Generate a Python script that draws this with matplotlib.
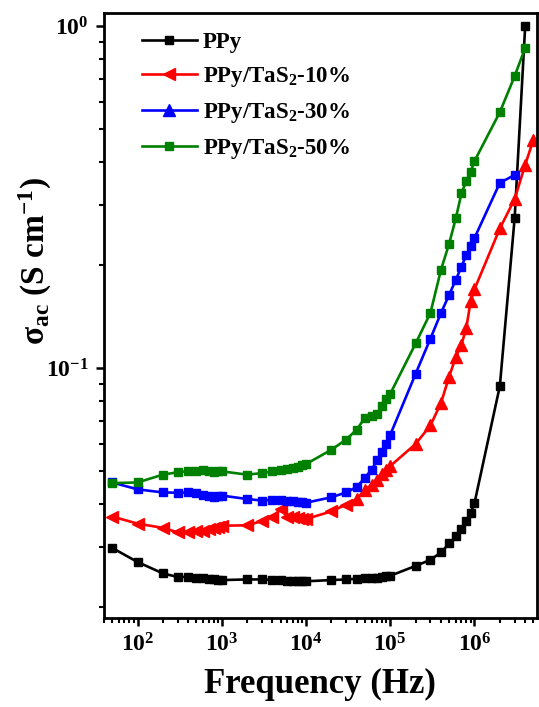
import matplotlib
matplotlib.use("Agg")
import matplotlib.pyplot as plt
from matplotlib.lines import Line2D
from matplotlib.ticker import LogLocator, NullFormatter, LogFormatterSciNotation

plt.rcParams['font.family'] = ['Liberation Serif', 'DejaVu Serif']
plt.rcParams['font.weight'] = 'bold'
plt.rcParams['mathtext.fontset'] = 'custom'
plt.rcParams['mathtext.rm'] = 'Liberation Serif:bold'
plt.rcParams['mathtext.bf'] = 'Liberation Serif:bold'
plt.rcParams['mathtext.it'] = 'Liberation Serif:bold:italic'
plt.rcParams['mathtext.default'] = 'bf'

# ---------------- data ----------------
freq_base = [50, 100, 200, 300, 400, 500, 600, 700, 800, 900,
             1e3, 2e3, 3e3, 4e3, 5e3, 6e3, 7e3, 8e3, 9e3,
             1e4, 2e4, 3e4, 4e4, 5e4, 6e4, 7e4, 8e4, 9e4,
             1e5, 2e5, 3e5, 4e5, 5e5, 6e5, 7e5, 8e5, 9e5, 1e6]

freq_ppy = freq_base + [2e6, 3e6, 4e6]
sigma_ppy = [0.0298, 0.0271, 0.0251, 0.0245, 0.0245, 0.0244, 0.0243, 0.0242, 0.0241, 0.0240,
             0.0240, 0.0241, 0.0241, 0.0240, 0.0240, 0.0239, 0.0239, 0.0238, 0.0238,
             0.0238, 0.0240, 0.0241, 0.0242, 0.0243, 0.0244, 0.0244, 0.0245, 0.0246,
             0.0247, 0.0264, 0.0275, 0.0289, 0.0307, 0.0322, 0.0339, 0.0357, 0.0377, 0.0403,
             0.0886, 0.275, 1.0]

freq_10 = freq_base + [2e6, 3e6, 4e6, 5e6]
sigma_10 = [0.0368, 0.0351, 0.0341, 0.0331, 0.0331, 0.0334, 0.0335, 0.0338, 0.0341, 0.0344,
            0.0346, 0.0347, 0.0357, 0.0368, 0.0386, 0.0368, 0.0366, 0.0364, 0.0363,
            0.0362, 0.0381, 0.0399, 0.0414, 0.0441, 0.0456, 0.0472, 0.0490, 0.0505,
            0.0517, 0.0600, 0.0680, 0.0790, 0.0944, 0.1077, 0.117, 0.131, 0.157, 0.170,
            0.256, 0.312, 0.393, 0.465]

freq_30 = freq_base + [2e6, 3e6]
sigma_30 = [0.0463, 0.0442, 0.0433, 0.0432, 0.0433, 0.0430, 0.0425, 0.0423, 0.0421, 0.0424,
            0.0424, 0.0414, 0.0410, 0.0412, 0.0411, 0.0410, 0.0408, 0.0407, 0.0405,
            0.0404, 0.0419, 0.0433, 0.0449, 0.0478, 0.0505, 0.0537, 0.0570, 0.0600,
            0.0638, 0.0962, 0.1220, 0.1448, 0.1637, 0.181, 0.198, 0.214, 0.227, 0.240,
            0.348, 0.367]

freq_50 = freq_base + [2e6, 3e6, 4e6]
sigma_50 = [0.0461, 0.0463, 0.0488, 0.0496, 0.0499, 0.0500, 0.0504, 0.0500, 0.0498, 0.0500,
            0.0499, 0.0488, 0.0493, 0.0499, 0.0502, 0.0506, 0.0509, 0.0515, 0.0520,
            0.0524, 0.0577, 0.0618, 0.0661, 0.0715, 0.0722, 0.0734, 0.0773, 0.0810,
            0.0841, 0.118, 0.145, 0.1937, 0.231, 0.274, 0.324, 0.353, 0.375, 0.403,
            0.560, 0.714, 0.864]

labels = ['PPy', 'PPy/TaS$_2$-10%', 'PPy/TaS$_2$-30%', 'PPy/TaS$_2$-50%']
colors = ['#000000', '#FF0000', '#0000FF', '#008000']
legend_markers = ['s', '<', '^', 's']

# ---------------- figure ----------------
fig = plt.figure(figsize=(5.39, 7.07), dpi=100)
ax = fig.add_axes([0.193, 0.126, 0.803, 0.856])

lw = 1.9
ms = 6.0
ax.plot(freq_ppy, sigma_ppy, color=colors[0], lw=lw, marker='s', ms=ms)

# red series: line, then markers (left triangles at low f, up triangles at high f)
ax.plot(freq_10, sigma_10, color=colors[1], lw=lw)
f_lo = [f for f in freq_10 if f < 4e4]
s_lo = [s for f, s in zip(freq_10, sigma_10) if f < 4e4]
f_hi = [f for f in freq_10 if f >= 4e4]
s_hi = [s for f, s in zip(freq_10, sigma_10) if f >= 4e4]
ax.plot(f_lo, s_lo, ls='none', marker='<', color=colors[1], ms=ms + 2)
ax.plot(f_hi, s_hi, ls='none', marker='^', color=colors[1], ms=ms + 2)

ax.plot(freq_30, sigma_30, color=colors[2], lw=lw, marker='s', ms=ms)
ax.plot(freq_50, sigma_50, color=colors[3], lw=lw, marker='s', ms=ms)

ax.set_xscale('log')
ax.set_yscale('log')
ax.set_xlim(40, 5.5e6)
ax.set_ylim(0.0186, 1.094)

ax.xaxis.set_major_locator(LogLocator(base=10, numticks=20))
ax.xaxis.set_minor_locator(LogLocator(base=10, subs=range(2, 10), numticks=50))
ax.yaxis.set_major_locator(LogLocator(base=10, numticks=20))
ax.yaxis.set_minor_locator(LogLocator(base=10, subs=range(2, 10), numticks=50))
ax.xaxis.set_minor_formatter(NullFormatter())
ax.yaxis.set_minor_formatter(NullFormatter())
ax.xaxis.set_major_formatter(LogFormatterSciNotation())
ax.yaxis.set_major_formatter(LogFormatterSciNotation())

for sp in ax.spines.values():
    sp.set_linewidth(2.0)
ax.tick_params(which='major', direction='out', length=6, width=1.8, labelsize=17, pad=5)
ax.tick_params(which='minor', direction='out', length=3.5, width=1.5)
ax.tick_params(top=False, right=False)

ax.set_xlabel('Frequency (Hz)', fontsize=25, fontweight='bold', labelpad=8)
ax.set_ylabel(r'$\sigma_{ac}$ (S cm$^{-1}$)', fontsize=24, fontweight='bold')
ax.yaxis.set_label_coords(-0.115, 0.59)

handles = [Line2D([], [], color=c, lw=lw, marker=m, ms=ms + (2 if m != 's' else 0))
           for c, m in zip(colors, legend_markers)]
ax.legend(handles, labels, loc='upper left', bbox_to_anchor=(0.087, 0.968),
          frameon=False, borderaxespad=0, borderpad=0,
          handlelength=2.4, handletextpad=0.28, labelspacing=0.52,
          prop={'weight': 'bold', 'size': 16.5})

fig.savefig('out.png', dpi=100)
